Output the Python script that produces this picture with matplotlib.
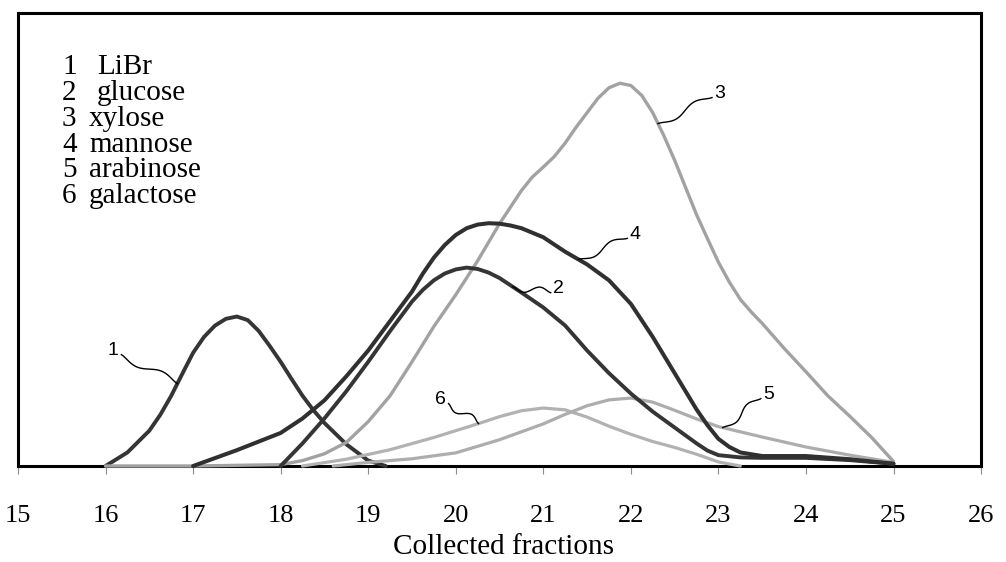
import numpy as np
import matplotlib
matplotlib.use("Agg")
import matplotlib.pyplot as plt
from matplotlib.transforms import ScaledTranslation

# elution profiles (arbitrary intensity units)
libr_x = [16.0, 16.25, 16.5, 16.625, 16.75, 16.875, 17.0, 17.125, 17.25, 17.375, 17.5, 17.625,
          17.75, 17.875, 18.0, 18.125, 18.25, 18.375, 18.5, 18.75, 19.0, 19.2]
libr_y = [0, 3.0, 7.8, 11.3, 15.5, 20.3, 25, 28.5, 31, 32.5, 33, 32.2,
          29.8, 26.5, 23, 19.2, 15.5, 12.3, 9.5, 4.8, 1.2, 0]

glucose_x = [18.0, 18.25, 18.5, 18.75, 19.0, 19.25, 19.5, 19.625, 19.75, 19.875, 20.0, 20.125,
             20.25, 20.375, 20.5, 20.75, 21.0, 21.25, 21.5, 21.75, 22.0, 22.25, 22.5, 22.75,
             22.875, 23.0, 23.25, 23.5, 24.0, 24.5, 25.0]
glucose_y = [0, 5, 10.5, 16.5, 23, 29.8, 36.3, 38.9, 41, 42.5, 43.4, 43.8,
             43.5, 42.7, 41.5, 38.3, 35, 31, 25.5, 20.5, 16, 12, 8.5, 5,
             3.4, 2.4, 1.9, 1.8, 1.8, 1.3, 0.5]

xylose_x = [16.0, 17.0, 18.0, 18.25, 18.5, 18.75, 19.0, 19.25, 19.5, 19.75, 20.0, 20.25,
            20.5, 20.75, 20.875, 21.0, 21.125, 21.25, 21.375, 21.5, 21.625, 21.75, 21.875,
            22.0, 22.125, 22.25, 22.375, 22.5, 22.625, 22.75, 22.875, 23.0, 23.125, 23.25,
            23.375, 23.5, 23.75, 24.0, 24.25, 24.5, 24.75, 25.0]
xylose_y = [0, 0, 0.3, 1.2, 2.7, 5.2, 9.8, 15.5, 23, 30.8, 37.8, 45.3,
            53.5, 60.8, 63.8, 66, 68.3, 71.3, 74.8, 78, 81.2, 83.5, 84.5,
            84, 81.8, 78, 73, 67.5, 61.5, 55.5, 50.2, 45, 40.6, 36.8,
            34, 31.5, 26, 20.8, 15.5, 11, 6.3, 1]

mannose_x = [17.0, 17.5, 18.0, 18.25, 18.5, 18.75, 19.0, 19.25, 19.5, 19.625, 19.75, 19.875,
             20.0, 20.125, 20.25, 20.375, 20.5, 20.625, 20.75, 21.0, 21.25, 21.5, 21.75, 22.0,
             22.25, 22.5, 22.75, 22.875, 23.0, 23.125, 23.25, 23.5, 24.0, 24.5, 25.0]
mannose_y = [0, 3.5, 7.3, 10.5, 14.5, 19.8, 25.5, 32, 38.5, 42.5, 46, 48.8,
             51, 52.5, 53.3, 53.6, 53.5, 53.1, 52.5, 50.5, 47.3, 44.5, 41, 35.8,
             28.5, 20.5, 12.5, 9, 6, 4.2, 3, 2.2, 2.2, 1.5, 0.5]

arabinose_x = [18.6, 19.0, 19.5, 20.0, 20.5, 21.0, 21.25, 21.5, 21.75, 22.0, 22.25, 22.5,
               22.75, 23.0, 23.5, 24.0, 24.5, 25.0]
arabinose_y = [0, 0.8, 1.6, 2.9, 5.8, 9.3, 11.4, 13.3, 14.6, 15, 14.1, 12.3,
               10.4, 8.7, 6.4, 4.2, 2.4, 0.8]

galactose_x = [18.25, 18.75, 19.25, 19.75, 20.25, 20.5, 20.75, 21.0, 21.25, 21.5, 21.75,
               22.0, 22.25, 22.5, 22.75, 23.0, 23.25]
galactose_y = [0, 1.5, 3.6, 6.3, 9.3, 10.9, 12.2, 12.8, 12.4, 10.8, 8.8,
               7.0, 5.4, 4.1, 2.6, 0.9, 0]

legend_nums = ["1", "2", "3", "4", "5", "6"]
legend_names = ["LiBr", "glucose", "xylose", "mannose", "arabinose", "galactose"]
xticks = list(range(15, 27))

plt.rcdefaults()
fig = plt.figure(figsize=(10.06, 5.62), dpi=100)
ax = fig.add_axes([0.0179, 0.1708, 0.9573, 0.806])

series = [
    (libr_x, libr_y, "#353535", 2.8),
    (xylose_x, xylose_y, "#a2a2a2", 2.4),
    (galactose_x, galactose_y, "#b2b2b2", 2.3),
    (arabinose_x, arabinose_y, "#adadad", 2.3),
    (glucose_x, glucose_y, "#353535", 2.8),
    (mannose_x, mannose_y, "#303030", 2.9),
]
for xs, ys, col, lw in series:
    ax.plot(xs, ys, color=col, lw=lw, solid_capstyle="round", solid_joinstyle="round",
            clip_on=False, zorder=3)

ax.set_xlim(15, 26)
ax.set_ylim(0, 100)
ax.set_yticks([])
ax.set_xticks(xticks)
ax.set_xticklabels([str(t) for t in xticks], family="Liberation Serif", fontsize=19)
ax.tick_params(axis="x", direction="out", length=6, width=0.8, color="#8a8a8a", pad=22)
for s in ax.spines.values():
    s.set_linewidth(2.2)
    s.set_color("black")
    s.set_zorder(2)

ax.set_xlabel("Collected fractions", family="Liberation Serif", fontsize=21)
ax.xaxis.set_label_coords(0.504, -0.179)
ax.xaxis.label.set_va("center")

# text legend in the top-left corner
name_x = [0.082, 0.082, 0.0737, 0.0737, 0.0737, 0.0737]
base_y = [0.865, 0.808, 0.751, 0.693, 0.638, 0.581]
for num, name, nx, by in zip(legend_nums, legend_names, name_x, base_y):
    ax.text(0.0457, by, num, transform=ax.transAxes, family="Liberation Serif",
            fontsize=21, va="baseline", ha="left")
    ax.text(nx, by, name, transform=ax.transAxes, family="Liberation Serif",
            fontsize=21, va="baseline", ha="left")

# numbered call-outs with wavy leaders: (label, series, x on curve, text offset in px)
callouts = [
    ("1", libr_x, libr_y, 16.82, (-64, 33)),
    ("2", glucose_x, glucose_y, 20.65, (46, -2)),
    ("3", xylose_x, xylose_y, 22.31, (62, 30)),
    ("4", mannose_x, mannose_y, 21.4, (57, 25)),
    ("5", arabinose_x, arabinose_y, 23.05, (46, 33)),
    ("6", galactose_x, galactose_y, 20.26, (-38, 24)),
]
for lab, xs, ys, cx, (dx, dy) in callouts:
    cy = np.interp(cx, xs, ys)
    tr = fig.dpi_scale_trans + ScaledTranslation(cx, cy, ax.transData)
    # leader from near the label to the curve, with one wiggle in the middle
    sx = dx - np.sign(dx) * 8
    sy = dy - 4
    t = np.linspace(0, 1, 60)
    lx = sx * (1 - t)
    ly = sy * (1 - t)
    L = np.hypot(sx, sy)
    nx_, ny_ = -sy / L, sx / L
    w = 4.5 * np.sin(2 * np.pi * t) * np.sin(np.pi * t) ** 0.5
    ax.plot((lx + nx_ * w) / 100, (ly + ny_ * w) / 100, transform=tr, color="black",
            lw=1.0, clip_on=False, zorder=4)
    ax.text(dx / 100, dy / 100, lab, transform=tr, family="Liberation Sans",
            fontsize=14, ha="center", va="center", zorder=4)

fig.savefig("out.png", dpi=100)
